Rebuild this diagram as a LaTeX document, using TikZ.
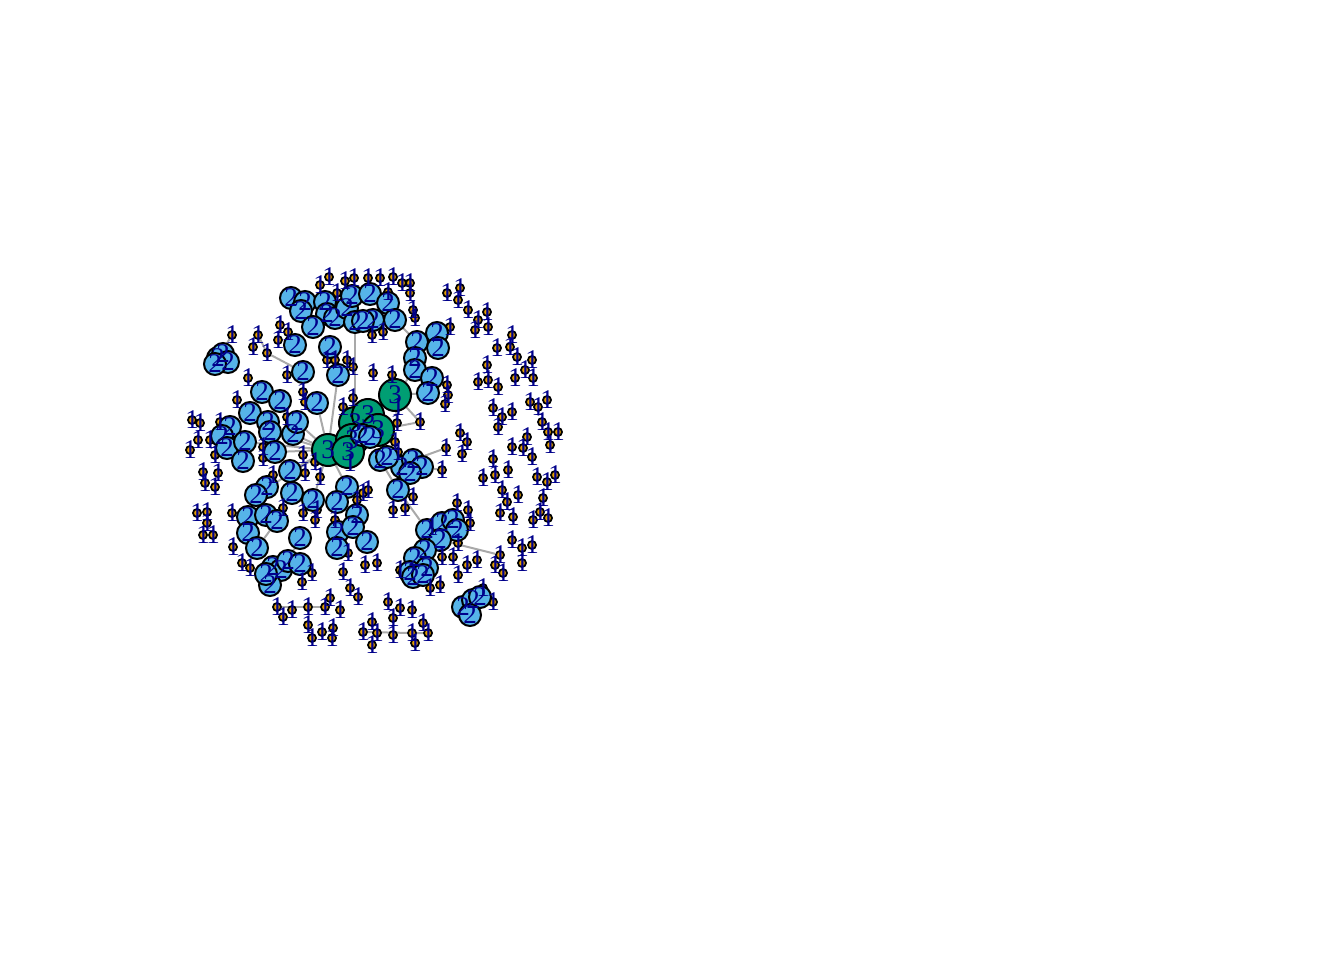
\documentclass[tikz,border=0pt]{standalone}
\usepackage{fontspec}
\setmainfont{Liberation Serif}
\pgfdeclarelayer{bg}\pgfdeclarelayer{fg}\pgfsetlayers{bg,main,fg}
\definecolor{vo}{HTML}{E69F00}
\definecolor{vb}{HTML}{56B4E9}
\definecolor{vg}{HTML}{009E73}
\definecolor{lab}{HTML}{00008B}
\definecolor{edg}{HTML}{A9A9A9}
\def\olist{329/277,320/285,345/281,354/278,368/278,380/278,393/277,402/283,410/283,410/293,337/293,388/292,413/310,415/318,372/335,383/332,288/332,280/325,278/340,232/335,258/335,253/347,267/353,287/375,248/378,303/392,327/360,335/360,347/360,353/367,373/373,392/375,
447/293,460/288,458/300,468/310,487/312,478/320,488/327,475/330,450/327,497/348,510/347,512/335,517/357,525/370,532/360,533/378,515/378,498/387,488/380,478/382,487/365,447/385,448/395,445/404,420/422,397/423,398/407,493/408,502/417,498/427,512/412,530/402,538/407,547/400,542/422,548/432,558/432,446/448,460/433,467/442,462/454,512/447,527/437,523/448,550/445,493/459,532/457,395/442,398/452,
483/478,495/475,508/470,502/490,507/502,518/495,500/513,513/517,537/477,547/482,555/475,543/498,540/512,548/518,533/520,512/540,522/548,532/545,522/563,457/503,468/510,470/523,458/543,442/557,453/557,467/565,477/560,458/575,440/585,430/588,495/565,500/555,503/573,483/588,493/602,442/470,413/497,405/508,393/510,432/527,400/570,388/602,400/608,412/610,393/618,423/623,428/633,412/633,393/635,415/643,
277/607,283/617,292/610,308/607,330/598,325/607,340/610,308/625,312/638,322/632,333/628,332/638,343/572,350/588,358/597,312/573,302/582,365/565,377/563,372/622,363/632,377/633,372/645,
197/513,207/512,207/523,203/535,213/535,232/513,233/547,242/563,250/568,
237/400,192/420,200/423,198/440,190/450,220/422,210/440,215/455,203/472,218/473,205/483,215/487,
305/402,353/398,343/407,287/417,263/447,263/458,273/475,303/455,315/462,320/477,317/510,283/508,303/513,315/520,363/493,357/500,335/520,348/553,350/463,305/473,368/490}
\def\blist{291/298,305/302,301/311,325/302,327/314,313/327,335/318,347/308,352/296,370/294,388/303,395/320,373/320,355/322,363/321,
295/345,330/347,303/372,338/375,262/392,280/401,317/403,
218/358,223/354,228/362,215/364,
417/342,437/333,438/348,415/358,415/370,432/378,428/393,
250/413,230/427,222/436,227/448,245/442,243/461,268/422,270/432,293/434,297/422,275/452,290/471,267/487,256/495,292/493,313/500,248/517,266/515,277/521,248/533,257/548,300/538,273/567,281/570,288/561,300/564,270/585,266/574,
347/487,337/502,357/515,338/532,337/548,353/527,367/542,
380/460,402/467,413/460,422/467,410/473,398/490,387/457,
427/530,442/523,453/520,457/530,440/540,425/550,415/558,410/572,413/577,427/568,423/575,463/607,473/600,480/597,470/615}
\def\glist{328/450,395/395,355/423,368/415,378/430,352/440,348/452}
\def\clist{362/435,370/437}
\begin{document}
\begin{tikzpicture}[x=1pt,y=-1pt,
  onode/.style={circle,draw=black,line width=1.8pt,fill=vo,minimum size=8pt,inner sep=0pt},
  bnode/.style={circle,draw=black,line width=2pt,fill=vb,minimum size=22pt,inner sep=0pt},
  gnode/.style={circle,draw=black,line width=2pt,fill=vg,minimum size=32pt,inner sep=0pt},
  lbl/.style={text=lab,font=\fontsize{27}{27}\selectfont,inner sep=0pt},
  edge/.style={draw=edg,line width=2pt}]
\useasboundingbox (0,0) rectangle (1344,960);
\foreach \x/\y in \olist {\node[onode] (o\x-\y) at (\x,\y) {};}
\foreach \x/\y in \blist {\node[bnode] (b\x-\y) at (\x,\y) {};}
\foreach \x/\y in \glist {\node[gnode] (g\x-\y) at (\x,\y) {};}
\foreach \x/\y in \clist {\node[bnode] (b\x-\y) at (\x,\y) {};}
\begin{pgfonlayer}{bg}
\foreach \t in {b297-422,b293-434,b275-452,b290-471,b313-500,b347-487,b338-375,b317-403,b245-442,b256-495,b270-432}
  {\draw[edge] (g328-450) -- (\t);}
\foreach \t in {b415-370,b428-393,o420-422,o397-423}
  {\draw[edge] (g395-395) -- (\t);}
\draw[edge] (b355-322) -- (g355-423);
\draw[edge] (g378-430) -- (o420-422);
\draw[edge] (o258-335) -- (o267-353) -- (b303-372);
\draw[edge] (o277-607) -- (o308-607) -- (o325-607);
\draw[edge] (o363-632) -- (o412-633) -- (o428-633);
\draw[edge] (b398-490) -- (b427-530);
\draw[edge] (b422-467) -- (o442-470);
\draw[edge] (b440-540) -- (o500-555);
\draw[edge] (b413-460) -- (o446-448);
\draw[edge] (b432-378) -- (o447-385);
\draw[edge] (b395-320) -- (b417-342);
\draw[edge] (o383-332) -- (b395-320);
\draw[edge] (b248-517) -- (b266-515);
\draw[edge] (b257-548) -- (b277-521);
\draw[edge] (b288-561) -- (b300-538);
\draw[edge] (b380-460) -- (b398-490);
\draw[edge] (b218-358) -- (o232-335);
\end{pgfonlayer}
\begin{pgfonlayer}{fg}
\foreach \x/\y in \olist {\node[lbl] at (o\x-\y) {1};}
\foreach \x/\y in \blist {\node[lbl] at (b\x-\y) {2};}
\foreach \x/\y in \glist {\node[lbl] at (g\x-\y) {3};}
\foreach \x/\y in \clist {\node[lbl] at (b\x-\y) {2};}
\end{pgfonlayer}
\end{tikzpicture}
\end{document}
